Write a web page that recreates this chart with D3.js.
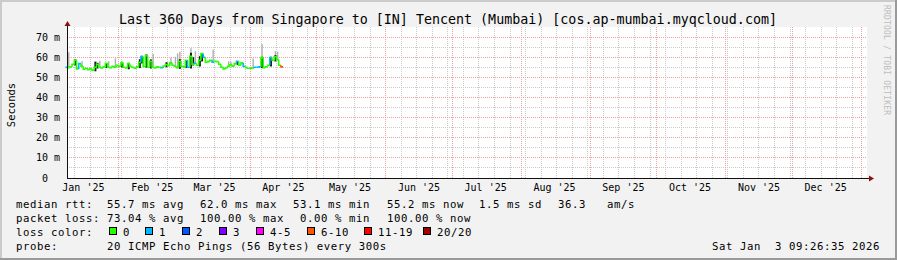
<!DOCTYPE html>
<html><head><meta charset="utf-8">
<script src="https://cdn.jsdelivr.net/npm/d3@7"></script>
<style>
html,body{margin:0;padding:0;background:#f2f2f2;}
svg{display:block;}
text{font-family:"DejaVu Sans Mono",monospace;white-space:pre;fill:#000;}
</style>
</head><body>
<svg id="c" width="897" height="260"></svg>
<script>
// ---------------- data ----------------
const titleText = "Last 360 Days from Singapore to [IN] Tencent (Mumbai) [cos.ap-mumbai.myqcloud.com]";
const monthLabels = ["Jan '25","Feb '25","Mar '25","Apr '25","May '25","Jun '25","Jul '25","Aug '25","Sep '25","Oct '25","Nov '25","Dec '25"];
const yTickValues = [0,10,20,30,40,50,60,70];
const yTickLabels = ["0  ","10 m","20 m","30 m","40 m","50 m","60 m","70 m"];
// daily median rtt (ms), starting at the left edge of the graph
const medianRtt = [
 55.0,54.8,55.2,56.5,58.5,54.2,56.8,55.5,54.0,54.5,
 53.8,54.2,53.6,55.0,56.5,55.0,54.6,55.2,57.0,55.0,
 54.8,55.5,55.0,56.0,55.5,57.2,55.0,54.6,56.8,55.4,
 55.0,54.5,55.2,57.5,60.3,55.4,60.8,55.0,58.0,55.0,
 54.6,55.2,55.0,54.8,55.6,56.4,55.8,57.2,56.0,55.5,
 54.8,58.0,55.5,55.2,58.5,55.0,60.5,56.5,57.0,56.0,
 58.5,61.8,60.0,57.5,57.8,58.5,57.5,58.0,57.8,56.5,
 55.0,54.2,54.6,55.5,56.2,55.5,56.8,58.0,56.0,57.2,
 55.5,54.8,54.5,54.5,54.6,55.0,55.0,55.2,59.8,54.8,
 55.2,56.0,59.8,58.5,60.2,58.8,56.0,55.2
];
// loss bucket index per day (0 = 0 lost, 1 = 1 lost, ... 5 = 6-10)
const lossBucket = [
 1,0,0,0,0,0,1,0,0,0, 0,0,0,0,0,0,0,0,0,0,
 0,0,0,0,0,0,0,0,0,0, 0,0,0,0,1,0,0,0,0,0,
 0,0,0,1,0,0,0,0,0,0, 0,0,0,0,0,1,0,0,1,0,
 0,0,1,0,0,0,1,0,0,0, 0,0,0,0,0,0,0,1,0,0,
 1,0,0,0,0,1,1,1,0,0, 0,0,1,0,0,0,0,5
];
// light smoke spikes (day index, top value ms)
const smokeDays = [1,7,15,19,22,39,47,49,50,51,56,58,66,73,74,84,88,94,95];
const smokeTops = [62.5,58.0,58.2,58.0,59.4,61.6,59.7,60.2,61.9,62.7,64.5,63.0,63.8,58.0,57.7,59.4,66.5,63.0,62.7];
// dark smoke spikes (day index, top value ms)
const darkDays = [4,13,14,18,25,28,33,34,36,38,45,51,54,56,57,60,61,77,88,92,94];
const darkTops = [58.9,57.8,57.2,57.0,57.7,57.2,59.0,60.7,61.4,58.9,57.5,59.0,58.5,62.2,60.0,60.5,62.0,57.7,60.2,60.2,61.0];

const lossColors = ["#26ff00","#00b8ff","#0059ff","#7e00ff","#ff00ff","#ff5500","#ff0000","#a10000"];
const lossLabels = ["0","1","2","3","4-5","6-10","11-19","20/20"];

const legendRtt = ["55.7 ms avg","62.0 ms max","53.1 ms min","55.2 ms now","1.5 ms sd","36.3","am/s"];
const legendLoss = ["73.04 % avg","100.00 % max","0.00 % min","100.00 % now"];
const probeText = "20 ICMP Echo Pings (56 Bytes) every 300s";
const dateText = "Sat Jan  3 09:26:35 2026";
const sideText = "RRDTOOL / TOBI OETIKER";

// ---------------- drawing ----------------
const svg = d3.select("#c");
const DAY = 86400000;
const t0 = Date.UTC(2025,0,8,9,26,35), t1 = Date.UTC(2026,0,3,9,26,35);
const x = d3.scaleUtc().domain([t0,t1]).range([66.5,866.5]);
const y = d3.scaleLinear().domain([0,75]).range([178,27]);
const crisp = v => Math.floor(v)+0.5;

// background & frame
svg.append("rect").attr("width",897).attr("height",260).attr("fill","#f2f2f2");
svg.append("rect").attr("x",0).attr("y",0).attr("width",897).attr("height",2).attr("fill","#cbcbcb");
svg.append("rect").attr("x",0).attr("y",0).attr("width",2).attr("height",260).attr("fill","#cbcbcb");
svg.append("rect").attr("x",0).attr("y",258).attr("width",897).attr("height",2).attr("fill","#9a9a9a");
svg.append("rect").attr("x",895).attr("y",0).attr("width",2).attr("height",260).attr("fill","#9a9a9a");

// canvas
svg.append("rect").attr("x",67).attr("y",27).attr("width",800).attr("height",151).attr("fill","#fff");

const grid = svg.append("g");
const minorCol = "#cacaca", majorCol = "#eda0a0";
// weekly minor grid
d3.utcSunday.range(t0,t1).forEach(d=>{
  const px = crisp(x(d));
  grid.append("line").attr("x1",px).attr("x2",px).attr("y1",27).attr("y2",178)
    .attr("stroke",minorCol).attr("stroke-dasharray","1,1");
});
// horizontal minor
d3.range(5,75,10).forEach(v=>{
  const py = crisp(y(v));
  grid.append("line").attr("x1",67).attr("x2",867).attr("y1",py).attr("y2",py)
    .attr("stroke",minorCol).attr("stroke-dasharray","1,1");
});
// monthly major
d3.utcMonth.range(t0,t1).forEach(d=>{
  const px = crisp(x(d));
  grid.append("line").attr("x1",px).attr("x2",px).attr("y1",27).attr("y2",178)
    .attr("stroke",majorCol).attr("stroke-dasharray","1,1");
});
// horizontal major
yTickValues.slice(1).forEach(v=>{
  const py = crisp(y(v));
  grid.append("line").attr("x1",67).attr("x2",867).attr("y1",py).attr("y2",py)
    .attr("stroke",majorCol).attr("stroke-dasharray","1,1");
});

// smoke
const dayX = i => x(t0 + i*DAY);
const smoke = svg.append("g");
smokeDays.forEach((d,k)=>{
  smoke.append("rect").attr("x",dayX(d)-0.7).attr("width",1.4)
    .attr("y",y(smokeTops[k])).attr("height",y(medianRtt[d]-0.3)-y(smokeTops[k]))
    .attr("fill","#b0b0b0");
});
darkDays.forEach((d,k)=>{
  smoke.append("rect").attr("x",dayX(d)-1).attr("width",2)
    .attr("y",y(darkTops[k])).attr("height",y(Math.min(medianRtt[d],d>0?medianRtt[d-1]:medianRtt[d])-0.6)-y(darkTops[k]))
    .attr("fill","#151515");
});

// median line (stepped) coloured by loss
const lineG = svg.append("g").attr("fill","none").attr("stroke-width",1.6);
medianRtt.forEach((v,i)=>{
  const xa = dayX(i-0.5), xb = dayX(i+0.5);
  const yv = y(v);
  let d = "M"+xa+","+(i>0?y(medianRtt[i-1]):yv)+"L"+xa+","+yv+"L"+xb+","+yv;
  lineG.append("path").attr("d",d).attr("stroke",lossColors[lossBucket[i]]);
});

// axes
svg.append("line").attr("x1",67).attr("x2",870).attr("y1",178.5).attr("y2",178.5).attr("stroke","#111");
svg.append("line").attr("x1",67.5).attr("x2",67.5).attr("y1",24).attr("y2",179).attr("stroke","#111");
svg.append("path").attr("d","M869,175.5L869,181.5L874,178.5Z").attr("fill","#8b1010");
svg.append("path").attr("d","M64.5,26L70.5,26L67.5,21Z").attr("fill","#8b1010");

// y tick labels
yTickValues.forEach((v,i)=>{
  svg.append("text").attr("x",60).attr("y",y(v)+3.5).attr("text-anchor","end")
    .style("font-size","10px").text(yTickLabels[i]);
});
// month labels
monthLabels.forEach((m,i)=>{
  const d = Date.UTC(2025,i,1) + 15*DAY;
  svg.append("text").attr("x",x(d)).attr("y",190.5).attr("text-anchor","middle")
    .style("font-size","10px").text(m);
});

// title
svg.append("text").attr("x",448).attr("y",23.5).attr("text-anchor","middle")
  .style("font-size","13.33px").text(titleText);
// y axis title
svg.append("text").attr("transform","translate(14.5,105) rotate(-90)").attr("text-anchor","middle")
  .style("font-size","10.5px").text("Seconds");
// side text
svg.append("text").attr("transform","translate(884,5) rotate(90)")
  .style("font-size","8px").style("letter-spacing","0.2px").style("fill","#bdbdbd").text(sideText);

// legend
const lg = svg.append("g").style("font-size","10.67px").style("letter-spacing","0.58px");
const row = [207.5,221.5,235.5,249.5];
lg.append("text").attr("x",16).attr("y",row[0]).text("median rtt:");
[107,200,293,387,479,558,607].forEach((px,i)=>lg.append("text").attr("x",px).attr("y",row[0]).text(legendRtt[i]));
lg.append("text").attr("x",16).attr("y",row[1]).text("packet loss:");
[107,200,300,387].forEach((px,i)=>lg.append("text").attr("x",px).attr("y",row[1]).text(legendLoss[i]));
lg.append("text").attr("x",16).attr("y",row[2]).text("loss color:");
const swX = [109,145,182,219,256,307,364,423];
lossColors.forEach((c,i)=>{
  lg.append("rect").attr("x",swX[i]+0.5).attr("y",227.5).attr("width",7).attr("height",7)
    .attr("fill",c).attr("stroke","#000").attr("stroke-width",1);
  lg.append("text").attr("x",swX[i]+14).attr("y",row[2]).text(lossLabels[i]);
});
lg.append("text").attr("x",16).attr("y",row[3]).text("probe:");
lg.append("text").attr("x",107).attr("y",row[3]).text(probeText);
lg.append("text").attr("x",880).attr("y",row[3]).attr("text-anchor","end").text(dateText);
</script>
</body></html>
